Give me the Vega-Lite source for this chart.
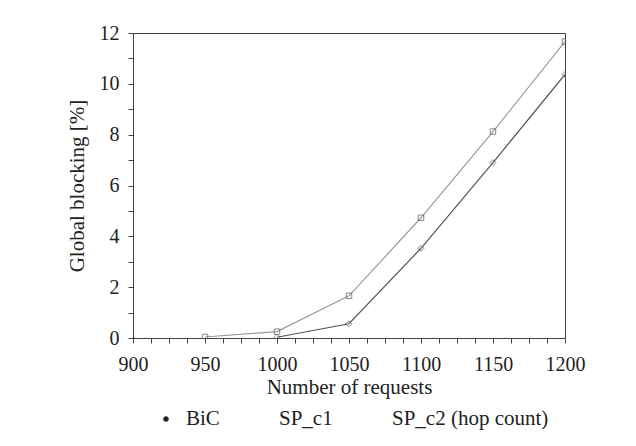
{
  "$schema": "https://vega.github.io/schema/vega-lite/v6.json",
  "width": 432,
  "height": 305,
  "autosize": {"type": "none"},
  "padding": {"left": 133, "top": 33, "right": 71, "bottom": 108},
  "background": "white",
  "config": {
    "view": {"stroke": "#444", "strokeWidth": 1},
    "font": "Liberation Serif",
    "axis": {
      "labelFont": "Liberation Serif",
      "titleFont": "Liberation Serif",
      "labelFontSize": 20,
      "titleFontSize": 21,
      "titleFontWeight": "normal",
      "labelColor": "#222",
      "titleColor": "#222",
      "domainColor": "#444",
      "tickColor": "#444",
      "tickSize": 5,
      "grid": false
    },
    "legend": {
      "symbolSize": 784,
      "symbolOpacity": 1,
      "symbolStrokeColor": "#222",
      "symbolStrokeWidth": 1.2,
      "labelFont": "Liberation Serif",
      "labelFontSize": 21,
      "labelColor": "#222",
      "labelOffset": 5,
      "columnPadding": 22,
      "labelLimit": 300
    }
  },
  "data": {
    "values": [
      {"requests": 900, "blocking": 0, "series": "BiC"},
      {"requests": 1000, "blocking": 0.03, "series": "SP_c1"},
      {"requests": 1050, "blocking": 0.56, "series": "SP_c1"},
      {"requests": 1100, "blocking": 3.53, "series": "SP_c1"},
      {"requests": 1150, "blocking": 6.9, "series": "SP_c1"},
      {"requests": 1200, "blocking": 10.37, "series": "SP_c1"},
      {"requests": 950, "blocking": 0.04, "series": "SP_c2 (hop count)"},
      {"requests": 1000, "blocking": 0.25, "series": "SP_c2 (hop count)"},
      {"requests": 1050, "blocking": 1.66, "series": "SP_c2 (hop count)"},
      {"requests": 1100, "blocking": 4.73, "series": "SP_c2 (hop count)"},
      {"requests": 1150, "blocking": 8.12, "series": "SP_c2 (hop count)"},
      {"requests": 1200, "blocking": 11.66, "series": "SP_c2 (hop count)"}
    ]
  },
  "encoding": {
    "x": {
      "field": "requests",
      "type": "quantitative",
      "scale": {"domain": [900, 1200], "nice": false, "zero": false},
      "axis": {
        "title": "Number of requests",
        "values": [900, 912.5, 925, 937.5, 950, 962.5, 975, 987.5, 1000, 1012.5, 1025, 1037.5, 1050, 1062.5, 1075, 1087.5, 1100, 1112.5, 1125, 1137.5, 1150, 1162.5, 1175, 1187.5, 1200],
        "format": "d",
        "labelExpr": "datum.value % 50 == 0 ? datum.label : ''",
        "labelPadding": 11,
        "titlePadding": 2,
        "labelFlush": false,
        "labelOverlap": false
      }
    },
    "y": {
      "field": "blocking",
      "type": "quantitative",
      "scale": {"domain": [0, 12], "nice": false},
      "axis": {
        "title": "Global blocking [%]",
        "values": [0, 0.5, 1, 1.5, 2, 2.5, 3, 3.5, 4, 4.5, 5, 5.5, 6, 6.5, 7, 7.5, 8, 8.5, 9, 9.5, 10, 10.5, 11, 11.5, 12],
        "format": "d",
        "labelExpr": "datum.value % 2 == 0 ? datum.label : ''",
        "labelPadding": 9,
        "titlePadding": 12,
        "labelOverlap": false
      }
    }
  },
  "layer": [
    {
      "mark": {"type": "point", "size": 0, "color": "#222", "filled": false, "strokeWidth": 1.2, "clip": true},
      "encoding": {
        "shape": {
          "field": "series",
          "type": "nominal",
          "scale": {
            "domain": ["BiC", "SP_c1", "SP_c2 (hop count)"],
            "range": [
              "M-1,0H1M-0.2,0A0.2,0.2,0,1,1,0.2,0A0.2,0.2,0,1,1,-0.2,0Z",
              "M-1,0H-0.22M0.22,0H1M0,-0.22L0.22,0L0,0.22L-0.22,0Z",
              "M-1,0H-0.17M0.17,0H1M-0.17,-0.17H0.17V0.17H-0.17Z"
            ]
          },
          "legend": {"title": null, "orient": "none", "direction": "horizontal", "legendX": 18, "legendY": 371}
        },
        "fill": {
          "field": "series",
          "type": "nominal",
          "scale": {"domain": ["BiC", "SP_c1", "SP_c2 (hop count)"], "range": ["#222", "#ffffff", "#ffffff"]},
          "legend": {"title": null, "orient": "none", "direction": "horizontal", "legendX": 18, "legendY": 371}
        }
      }
    },
    {
      "transform": [{"filter": "datum.series == 'SP_c1'"}],
      "mark": {"type": "line", "clip": true, "strokeWidth": 1.2, "color": "#555"}
    },
    {
      "transform": [{"filter": "datum.series == 'SP_c2 (hop count)'"}],
      "mark": {"type": "line", "clip": true, "strokeWidth": 1.2, "color": "#9a9a9a"}
    },
    {
      "transform": [{"filter": "datum.series == 'BiC'"}],
      "mark": {"type": "point", "shape": "circle", "filled": true, "color": "#222", "size": 12, "clip": true}
    },
    {
      "transform": [{"filter": "datum.series == 'SP_c1'"}],
      "mark": {"type": "point", "shape": "diamond", "filled": false, "color": "#555", "strokeWidth": 1, "size": 36, "clip": true}
    },
    {
      "transform": [{"filter": "datum.series == 'SP_c2 (hop count)'"}],
      "mark": {"type": "point", "shape": "square", "filled": false, "color": "#555", "strokeWidth": 1, "size": 30, "clip": true}
    }
  ]
}
